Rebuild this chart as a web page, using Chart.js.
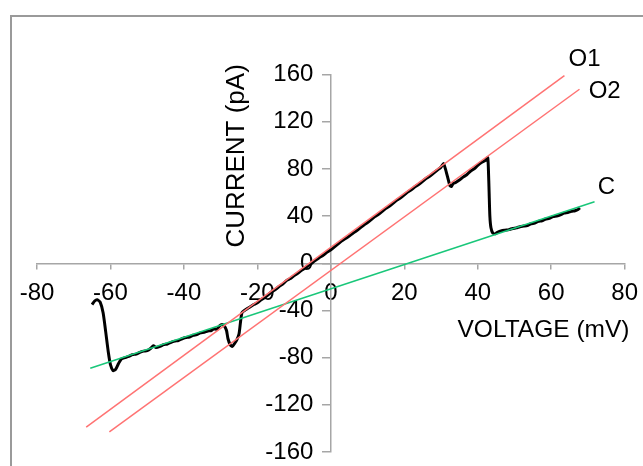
<!DOCTYPE html>
<html>
<head>
<meta charset="utf-8">
<script src="https://cdn.jsdelivr.net/npm/chart.js@4/dist/chart.umd.min.js"></script>
<style>
  html, body { margin: 0; padding: 0; background: #fff; overflow: hidden; }
  #wrap { position: relative; width: 643px; height: 466px; overflow: hidden; }
  #frame { position: absolute; left: 10px; top: 15px; width: 700px; height: 500px;
           border-left: 2px solid #9a9a9a; border-top: 2px solid #9a9a9a; }
  canvas { position: absolute; left: 0; top: 0; }
</style>
</head>
<body>
<div id="wrap">
  <div id="frame"></div>
  <canvas id="chart" width="649" height="520"></canvas>
</div>
<script>
// measured I-V trace (mV, pA)
const traceVoltage = [
  -65.0, -64.3, -63.6, -62.8, -62.0, -61.3, -60.6, -60.0, -59.3, -58.6,
  -57.8, -57.0, -56.0, -55.0, -54.0, -53.0, -52.0, -51.0, -50.0, -49.0,
  -48.3, -47.6, -46.5, -45.5, -44.5, -43.5, -42.5, -41.5, -40.5, -39.5,
  -38.5, -37.5, -36.5, -35.5, -34.5, -33.5, -32.5, -31.8, -31.0, -30.3,
  -29.6, -29.0, -28.4, -28.0, -27.4, -26.8, -26.2, -25.6, -25.0, -24.6,
  -24.2, -23.5, -22.5, -21.0, -20.0, -19.0, -18.0, -17.0, -16.0, -15.0,
  -14.0, -13.0, -12.0, -11.0, -10.0, -9.0, -8.0, -7.0, -6.0, -5.0,
  -4.0, -3.0, -2.0, -1.0, 0.0, 1.0, 2.0, 3.0, 4.0, 5.0,
  6.0, 7.0, 8.0, 9.0, 10.0, 11.0, 12.0, 13.0, 14.0, 15.0,
  16.0, 17.0, 18.0, 19.0, 20.0, 21.0, 22.0, 23.0, 24.0, 25.0,
  26.0, 27.0, 28.0, 29.0, 30.0, 30.7, 31.2, 31.8, 32.4, 32.8,
  33.3, 34.0, 35.0, 36.0, 37.0, 38.0, 39.0, 40.0, 41.0, 42.0,
  42.7, 42.9, 43.1, 43.3, 43.6, 44.1, 44.8, 45.5, 46.5, 47.5,
  48.5, 49.5, 50.5, 51.5, 52.5, 53.5, 54.5, 55.5, 56.5, 57.5,
  58.5, 59.5, 60.5, 61.5, 62.5, 63.5, 64.5, 65.5, 66.5, 67.3, 67.8
]
const traceCurrent = [
  -35, -32, -31, -33, -42, -58, -75, -86, -91, -90,
  -85, -81, -80, -79, -77.5, -77, -75.5, -74.5, -74, -72,
  -70, -71.5, -70.5, -69, -68.5, -67, -66, -65.5, -64, -63,
  -62.5, -61, -60.5, -59, -58.5, -57.5, -57, -55.5, -56, -53,
  -52, -53, -57, -64, -69, -70.5, -68, -65, -60, -50,
  -42, -40, -38, -35, -33.5, -31, -29, -26.5, -24, -22,
  -19.5, -17.5, -14.5, -13, -10.5, -8.5, -6, -4, -1.5, 0.5,
  3, 5, 7, 9.5, 11.5, 14, 16.5, 19, 21, 23,
  25.5, 27.5, 30, 32.5, 34.5, 37, 39.5, 41.5, 44, 46.5,
  48.5, 51, 53.5, 55.5, 58, 60.5, 62.5, 65, 67, 69.5,
  72, 74, 76.5, 79, 81.5, 84.5, 80, 73, 66, 65,
  67.5, 68.5, 70.5, 73, 75, 78, 80, 83, 85.5, 87,
  89.5, 80, 60, 40, 30, 25.5, 25, 26.5, 27.5, 28,
  28.5, 29.5, 30, 31, 31.5, 32, 33.5, 34, 35.5, 36,
  37.5, 38, 39.5, 40, 41, 42.5, 43, 44, 44.5, 45.5, 47
]

// fitted conductance lines (end points)
const o1Voltage = [-66.6, 63.6]
const o1Current = [-139, 159]
const o2Voltage = [-60.3, 67.7]
const o2Current = [-143, 147.5]
const cVoltage = [-65.5, 71.8]
const cCurrent = [-89, 52.2]

const xTicks = [-80, -60, -40, -20, 0, 20, 40, 60, 80]
const yTicks = [-160, -120, -80, -40, 0, 40, 80, 120, 160]

// annotation text: [text, mV, pA]
const lineLabels = [
  ['O1', 64.7, 172.5],
  ['O2', 70.2, 146],
  ['C', 72.7, 64.7]
]
const xTitle = ['VOLTAGE (mV)', 57.9, -57]
const yTitle = ['CURRENT (pA)', -25.6, 91]

const FONT = "'Liberation Sans', Arial, sans-serif"
const toPoints = (xs, ys) => xs.map((x, i) => ({x: x, y: ys[i]}))

const annotations = {
  id: 'annotations',
  afterDraw(chart) {
    const {ctx, scales: {x, y}} = chart
    ctx.save()
    ctx.fillStyle = '#000'
    ctx.font = `24px ${FONT}`
    ctx.textBaseline = 'middle'
    ctx.textAlign = 'left'
    lineLabels.forEach(([text, vx, vy]) => {
      ctx.fillText(text, x.getPixelForValue(vx), y.getPixelForValue(vy))
    })
    ctx.textAlign = 'center'
    ctx.font = `24.5px ${FONT}`
    ctx.fillText(xTitle[0], x.getPixelForValue(xTitle[1]), y.getPixelForValue(xTitle[2]))
    ctx.font = `26px ${FONT}`
    ctx.translate(x.getPixelForValue(yTitle[1]), y.getPixelForValue(yTitle[2]))
    ctx.rotate(-Math.PI / 2)
    ctx.fillText(yTitle[0], 0, 0)
    ctx.restore()
  }
}

new Chart(document.getElementById('chart'), {
  type: 'scatter',
  data: {
    datasets: [{
      label: 'O1',
      data: toPoints(o1Voltage, o1Current),
      showLine: true,
      borderColor: '#ff7373',
      borderWidth: 1.5,
      pointRadius: 0
    }, {
      label: 'O2',
      data: toPoints(o2Voltage, o2Current),
      showLine: true,
      borderColor: '#ff7373',
      borderWidth: 1.5,
      pointRadius: 0
    }, {
      label: 'C',
      data: toPoints(cVoltage, cCurrent),
      showLine: true,
      borderColor: '#19c77a',
      borderWidth: 1.5,
      pointRadius: 0
    }, {
      label: 'trace',
      data: toPoints(traceVoltage, traceCurrent),
      showLine: true,
      borderColor: '#000',
      borderWidth: 3,
      pointRadius: 0,
      tension: 0.2
    }]
  },
  options: {
    responsive: false,
    animation: false,
    layout: {padding: {left: 37, right: 17, top: 74.5, bottom: 68}},
    plugins: {legend: {display: false}, tooltip: {enabled: false}},
    scales: {
      x: {
        type: 'linear',
        min: -80, max: 80,
        position: 'center',
        afterBuildTicks: (axis) => { axis.ticks = xTicks.map(v => ({value: v})) },
        grid: {display: true, drawOnChartArea: false, drawTicks: true, tickLength: 5, color: '#a6a6a6', lineWidth: 1.5},
        border: {display: true, color: '#a6a6a6', width: 1.5},
        ticks: {color: '#000', font: {family: FONT, size: 24}, padding: 11, autoSkip: false, maxRotation: 0}
      },
      y: {
        type: 'linear',
        min: -160, max: 160,
        position: 'center',
        afterBuildTicks: (axis) => { axis.ticks = yTicks.map(v => ({value: v})) },
        grid: {display: true, drawOnChartArea: false, drawTicks: true, tickLength: 8, color: '#a6a6a6', lineWidth: 1.5},
        border: {display: true, color: '#a6a6a6', width: 1.5},
        ticks: {color: '#000', font: {family: FONT, size: 24}, padding: 9.5, autoSkip: false}
      }
    }
  },
  plugins: [annotations]
})
</script>
</body>
</html>
